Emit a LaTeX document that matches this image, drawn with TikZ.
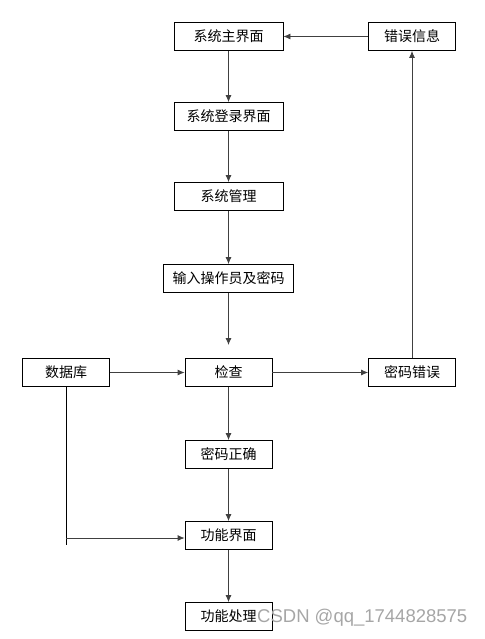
\documentclass[tikz,border=0pt]{standalone}
\usepackage{fontspec}
\setmainfont{Noto Sans CJK SC}
\newfontfamily\wmfont{Liberation Sans}
\usetikzlibrary{arrows.meta}

\begin{document}
\begin{tikzpicture}[x=1pt, y=-1pt,
    every node/.style={font=\fontsize{14}{16}\selectfont},
    box/.style={draw, line width=0.8pt, inner sep=0pt, minimum height=28pt},
    wide/.style={box, minimum width=109pt},
    small/.style={box, minimum width=87pt},
    flow/.style={line width=0.8pt, draw=black!75, -{Latex[length=7pt,width=6pt]}}]
  \useasboundingbox (0,0) rectangle (484,639);
  % main column
  \node[wide] (zjm) at (228.5,36.5)  {系统主界面};
  \node[wide] (dl)  at (228.5,116.5) {系统登录界面};
  \node[wide] (gl)  at (228.5,196.5) {系统管理};
  \node[box, minimum width=130pt] (sr) at (228.5,278.5) {输入操作员及密码};
  \node[small] (jc) at (228.5,372.5) {检查};
  \node[small] (zq) at (228.5,454.5) {密码正确};
  \node[small] (gn) at (228.5,535.5) {功能界面};
  \node[small] (cl) at (228.5,616.5) {功能处理};
  % side boxes
  \node[small] (sjk) at (66,372.5)  {数据库};
  \node[small] (cw)  at (412,372.5) {密码错误};
  \node[small] (xx)  at (412,36.5)  {错误信息};
  % helper points
  \coordinate (sr end) at (228.5,345);
  \coordinate (sjk end) at (66,545);
  \coordinate (sjk turn) at (66,538);
  % edges
  \draw[flow] (zjm) -- (dl);
  \draw[flow] (dl) -- (gl);
  \draw[flow] (gl) -- (sr);
  \draw[flow] (sr) -- (sr end);
  \draw[flow] (sjk) -- (jc);
  \draw[flow] (jc) -- (cw);
  \draw[flow] (jc) -- (zq);
  \draw[flow] (zq) -- (gn);
  \draw[flow] (gn) -- (cl);
  \draw[flow] (cw) -- (xx);
  \draw[flow] (xx) -- (zjm);
  \draw[line width=0.8pt] (sjk) -- (sjk end);
  \draw[flow] (sjk turn) -- (gn.west |- sjk turn);
  % watermark
  \node[anchor=west, inner sep=0pt, text=black!35, font=\wmfont\fontsize{18.5}{20}\selectfont] (wm) at (257,618) {CSDN @qq\_1744828575};
\end{tikzpicture}
\end{document}
